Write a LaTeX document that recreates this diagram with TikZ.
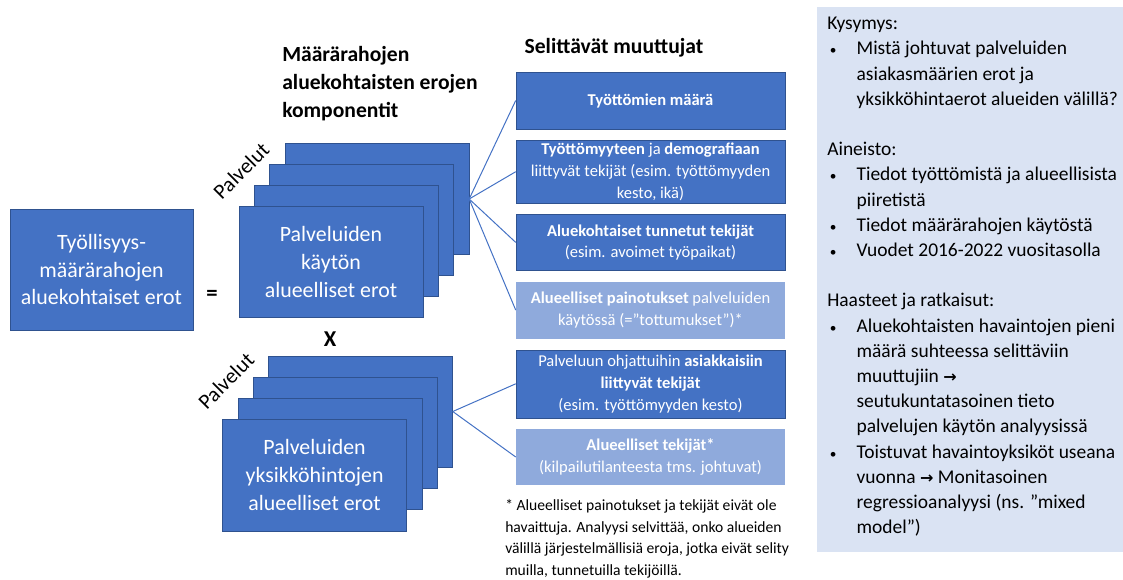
\documentclass[tikz,border=0pt]{standalone}
\usepackage{fontspec}
\setmainfont{Carlito}
\newfontfamily\arrowfont{DejaVu Sans}
\usetikzlibrary{positioning}
\definecolor{boxblue}{HTML}{4472C4}
\definecolor{boxedge}{HTML}{2F528F}
\definecolor{lightblue}{HTML}{8FAADC}
\definecolor{panelblue}{HTML}{DAE3F3}
\newcommand{\bul}{\makebox[22pt][l]{\hspace{2pt}{\fontsize{10}{10}\selectfont•}}}
\newcommand{\ind}{\hspace*{22pt}}
\newcommand{\arr}{{\arrowfont\bfseries\fontsize{12}{12}\selectfont →}}

\begin{document}
\begin{tikzpicture}[x=0.75pt, y=-0.75pt, node distance=8pt,
    bigbox/.style={rectangle, draw=boxedge, fill=boxblue, text=white, minimum width=137.25pt, minimum height=90.75pt, align=center, font=\fontsize{16.4}{20.5}\selectfont},
    stack/.style={rectangle, draw=boxedge, fill=boxblue, text=white, minimum width=138pt, minimum height=83.5pt, align=center, font=\fontsize{16.4}{21}\selectfont},
    box/.style={rectangle, draw=boxedge, fill=boxblue, text=white, minimum width=201.75pt, align=center, inner sep=2pt, font=\fontsize{12.4}{16.3}\selectfont},
    lbox/.style={box, draw=none, fill=lightblue},
    conn/.style={draw=boxblue, line width=0.75pt},
    heading/.style={font=\bfseries\fontsize{16.2}{21}\selectfont, align=left, inner sep=0pt},
    side/.style={rotate=45, font=\fontsize{16}{16}\selectfont},
    op/.style={font=\bfseries\fontsize{17}{17}\selectfont},
    note/.style={align=left, inner sep=0pt, font=\fontsize{11.7}{16.3}\selectfont},
  ]
  \useasboundingbox (0,0) rectangle (1123,579);
  \fill [panelblue] (817,7) rectangle (1123,552);
  \node [heading, anchor=north west] (comptitle) at (282,46) {Määrärahojen\\aluekohtaisten erojen\\komponentit};
  \node [heading] (vartitle) at (614,48) {Selittävät muuttujat};
  \node [bigbox] (total) at (101.5,269.5) {Työllisyys-\\määrärahojen\\aluekohtaiset erot};
  \node [op] (eq) at (212,295) {=};
  % usage stack
  \foreach \i in {3,2,1}
    \node [stack] (use\i) at (331+15.3*\i,262-21*\i) {};
  \node [stack] (use0) at (331,262) {Palveluiden\\käytön\\alueelliset erot};
  \node [side] (usetag) at (241,171) {Palvelut};
  \node [op] (times) at (330,339) {X};
  % unit price stack
  \foreach \i in {3,2,1}
    \node [stack] (price\i) at (314.6+15.3*\i,475.1-21.2*\i) {};
  \node [stack] (price0) at (314.6,475.1) {Palveluiden\\yksikköhintojen\\alueelliset erot};
  \node [side] (pricetag) at (226,381) {Palvelut};
  \node [box, minimum height=42.75pt] (b1) at (650.5,100.5) {\textbf{Työttömien määrä}};
  \node [box, minimum height=47.25pt, below=of b1] (b2) {\textbf{Työttömyyteen} ja \textbf{demografiaan}\\liittyvät tekijät (esim. työttömyyden\\kesto, ikä)};
  \node [box, minimum height=42pt, below=of b2] (b3) {\textbf{Aluekohtaiset tunnetut tekijät}\\(esim. avoimet työpaikat)};
  \node [lbox, minimum height=42.75pt, below=of b3] (b4) {\textbf{Alueelliset painotukset} palveluiden\\käytössä (=”tottumukset”)*};
  \node [box, minimum height=51pt, below=of b4] (b5) {Palveluun ohjattuihin \textbf{asiakkaisiin}\\\textbf{liittyvät tekijät}\\(esim. työttömyyden kesto)};
  \node [lbox, minimum height=42pt, below=of b5] (b6) {\textbf{Alueelliset tekijät*}\\(kilpailutilanteesta tms. johtuvat)};
  \foreach \b in {b1,b2,b3,b4}
    \draw [conn] (use3.east) -- (\b.west);
  \foreach \b in {b5,b6}
    \draw [conn] (price3.east) -- (\b.west);
  \node [note, anchor=north west] (footnote) at (505,499) {* Alueelliset painotukset ja tekijät eivät ole\\havaittuja. Analyysi selvittää, onko alueiden\\välillä järjestelmällisiä eroja, jotka eivät selity\\muilla, tunnetuilla tekijöillä.};
  \node [note, anchor=north west, font=\fontsize{14.6}{18.9}\selectfont] (panel) at (827,17) {Kysymys:\\
    \bul Mistä johtuvat palveluiden\\
    \ind asiakasmäärien erot ja\\
    \ind yksikköhintaerot alueiden välillä?\\[18.9pt]
    Aineisto:\\
    \bul Tiedot työttömistä ja alueellisista\\
    \ind piiretistä\\
    \bul Tiedot määrärahojen käytöstä\\
    \bul Vuodet 2016-2022 vuositasolla\\[18.9pt]
    Haasteet ja ratkaisut:\\
    \bul Aluekohtaisten havaintojen pieni\\
    \ind määrä suhteessa selittäviin\\
    \ind muuttujiin \arr\\
    \ind seutukuntatasoinen tieto\\
    \ind palvelujen käytön analyysissä\\
    \bul Toistuvat havaintoyksiköt useana\\
    \ind vuonna \arr{} Monitasoinen\\
    \ind regressioanalyysi (ns. ”mixed\\
    \ind model”)};
\end{tikzpicture}
\end{document}
